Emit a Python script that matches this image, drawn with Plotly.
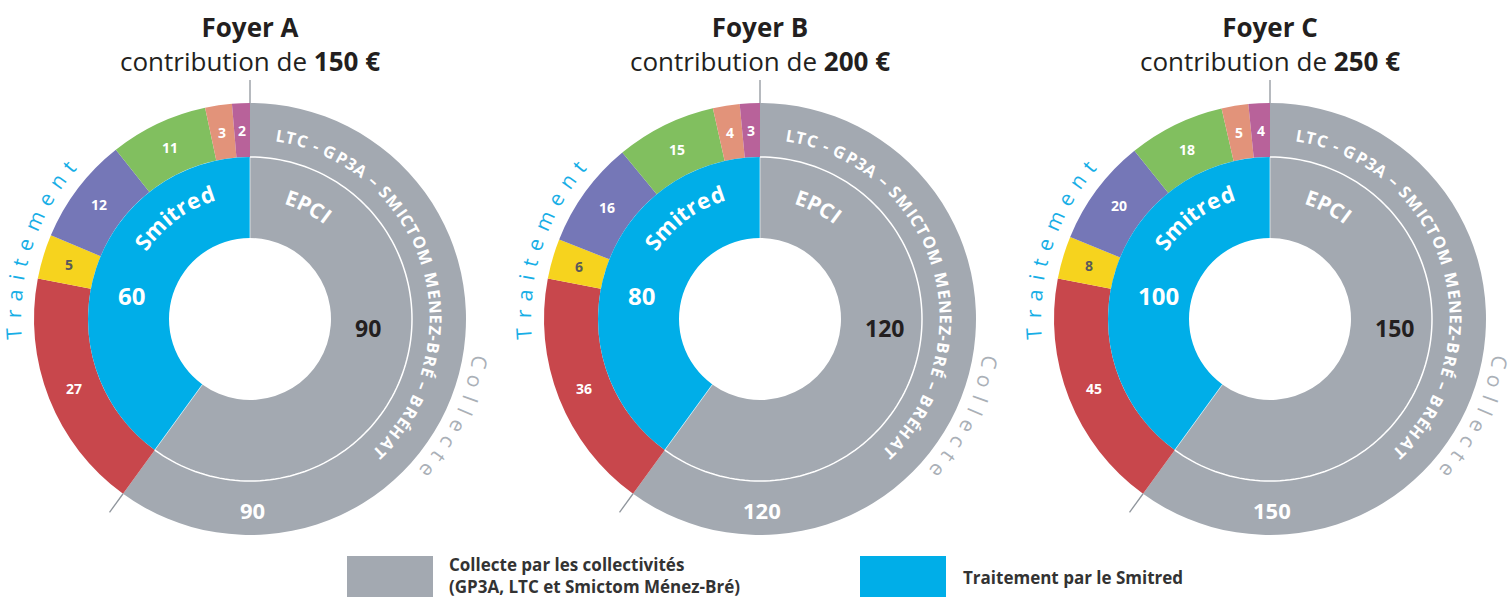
import math
import plotly.graph_objects as go

W, H = 1508, 597

# ---------------- data ----------------
foyers = ["Foyer A", "Foyer B", "Foyer C"]
contributions = [150, 200, 250]
collecte = [90, 120, 150]          # EPCI / collectivités
traitement = [60, 80, 100]         # Smitred
trait_cats = ["Traitement 1", "Traitement 2", "Traitement 3",
              "Traitement 4", "Traitement 5", "Traitement 6"]
trait_A = [27, 5, 12, 11, 3, 2]
trait_B = [36, 6, 16, 15, 4, 3]
trait_C = [45, 8, 20, 18, 5, 4]
trait_values = [trait_A, trait_B, trait_C]

ring_text = "LTC - GP3A – SMICTOM MENEZ-BRÉ – BRÉHAT"
legend_gray_lines = ["Collecte par les collectivités", "(GP3A, LTC et Smictom Ménez-Bré)"]
legend_blue_lines = ["Traitement par le Smitred"]

# ---------------- style ----------------
GRAY = "#a3a9b1"
BLUE = "#00aee8"
TRAIT_COLORS = ["#c8474c", "#f6d31e", "#7577b7", "#81bf5f", "#e2937a", "#b8629a"]
TRAIT_TEXT = ["white", "#5a5a5a", "white", "white", "white", "white"]
DARK = "#231f20"
FONT = "Open Sans"

CENTERS_X = [250, 760, 1270]
CY = 319
R_OUT, R_MID, R_HOLE = 216, 162, 81


def paper(x, y):
    return x / W, 1 - y / H


def pol(cx, cy, r, th):
    a = math.radians(th)
    return cx + r * math.sin(a), cy - r * math.cos(a)


def norm_angle(a):
    while a > 180:
        a -= 360
    while a <= -180:
        a += 360
    return a


BOLD_W = {" ": 0.26, "-": 0.32, "–": 0.5, "A": 0.72, "B": 0.69, "C": 0.645, "E": 0.55,
          "É": 0.55, "G": 0.735, "H": 0.76, "I": 0.36, "L": 0.557, "M": 0.95, "N": 0.80,
          "O": 0.79, "P": 0.63, "R": 0.67, "S": 0.56, "T": 0.57, "Z": 0.56, "3": 0.57,
          "m": 0.95, "i": 0.30, "t": 0.42, "r": 0.45, "e": 0.6, "d": 0.67}
REG_W = {"C": 0.63, "o": 0.6, "l": 0.26, "e": 0.56, "c": 0.48, "t": 0.36, "T": 0.55,
         "r": 0.41, "a": 0.56, "i": 0.26, "m": 0.93, "n": 0.61}

fig = go.Figure()
annotations = []
shapes = []


def arc_text(text, widths, cx, cy, r, th0, th1, size, color, bold=False, track=0.0):
    ws = [widths.get(ch, 0.6) + track for ch in text]
    centers, acc = [], 0.0
    for w in ws:
        centers.append(acc + w / 2)
        acc += w
    c0, c1 = centers[0], centers[-1]
    for ch, c in zip(text, centers):
        if ch == " ":
            continue
        th = th0 + (th1 - th0) * (c - c0) / (c1 - c0)
        x, y = paper(*pol(cx, cy, r, th))
        annotations.append(dict(
            x=x, y=y, xref="paper", yref="paper", showarrow=False,
            text=f"<b>{ch}</b>" if bold else ch, textangle=norm_angle(th),
            xanchor="center", yanchor="middle",
            font=dict(family=FONT, size=size, color=color)))


def label(px, py, text, size, color, angle=0, xanchor="center"):
    x, y = paper(px, py)
    annotations.append(dict(x=x, y=y, xref="paper", yref="paper", showarrow=False,
                            text=text, textangle=angle, xanchor=xanchor, yanchor="middle",
                            align="center" if xanchor == "center" else "left",
                            font=dict(family=FONT, size=size, color=color)))


def domain(cx, cy, r):
    return dict(x=[(cx - r) / W, (cx + r) / W], y=[1 - (cy + r) / H, 1 - (cy - r) / H])


def polyline(cx, cy, r, th0, th1, n=120):
    pts = []
    for i in range(n + 1):
        th = th0 + (th1 - th0) * i / n
        x, y = paper(*pol(cx, cy, r, th))
        pts.append(f"{'M' if i == 0 else 'L'}{x:.6f},{y:.6f}")
    return " ".join(pts)


for i, foyer in enumerate(foyers):
    cx = CENTERS_X[i]
    col, tr, tv = collecte[i], traitement[i], trait_values[i]
    total = col + tr

    # outer ring
    fig.add_trace(go.Pie(
        values=[col] + tv, labels=["Collecte"] + trait_cats,
        marker=dict(colors=[GRAY] + TRAIT_COLORS, line=dict(width=0)),
        hole=R_MID / R_OUT, sort=False, direction="clockwise", rotation=0,
        textinfo="none", hoverinfo="skip", showlegend=False,
        domain=domain(cx, CY, R_OUT)))
    # inner ring
    fig.add_trace(go.Pie(
        values=[col, tr], labels=["EPCI", "Smitred"],
        marker=dict(colors=[GRAY, BLUE], line=dict(width=0)),
        hole=R_HOLE / R_MID, sort=False, direction="clockwise", rotation=0,
        textinfo="none", hoverinfo="skip", showlegend=False,
        domain=domain(cx, CY, R_MID)))

    th_split = 360 * col / total

    # separators
    shapes.append(dict(type="path", xref="paper", yref="paper",
                       path=polyline(cx, CY, R_MID, 0, th_split),
                       line=dict(color="white", width=1.5)))
    for th in (0, th_split):
        x0, y0 = paper(*pol(cx, CY, R_HOLE, th))
        x1, y1 = paper(*pol(cx, CY, R_MID, th))
        shapes.append(dict(type="line", xref="paper", yref="paper", x0=x0, y0=y0, x1=x1, y1=y1,
                           line=dict(color="rgba(255,255,255,0.6)", width=1)))
        x0, y0 = paper(*pol(cx, CY, R_OUT, th))
        x1, y1 = paper(*pol(cx, CY, R_OUT + 23, th))
        shapes.append(dict(type="line", xref="paper", yref="paper", x0=x0, y0=y0, x1=x1, y1=y1,
                           line=dict(color="#8f959c", width=1.3)))

    # titles (one two-line block)
    label(cx, 44, f"<b>{foyer}</b><br>contribution de <b>{contributions[i]} €</b>", 26, DARK)

    # outer traitement labels
    acc = col
    for v, tc in zip(tv, TRAIT_TEXT):
        mid = 360 * (acc + v / 2) / total
        acc += v
        px, py = pol(cx, CY, 189, mid)
        label(px, py, f"<b>{v}</b>", 14, tc)

    # outer gray value
    px, py = pol(cx, CY, 191, 180)
    label(px + 2, py, f"<b>{col}</b>", 22, "white")
    # inner values
    label(cx - 134, CY - 24, f"<b>{tr}</b>", 24, "white", xanchor="left")
    label(cx + 103, CY + 9, f"<b>{col}</b>", 23, DARK, xanchor="left")
    # inner names (curved)
    arc_text("Smitred", BOLD_W, cx, CY, 132, 305.5, 341, 22, "white", bold=True, track=0.02)
    arc_text("EPCI", BOLD_W, cx, CY, 128, 19, 36.5, 21, "white", bold=True)

    # curved texts
    arc_text(ring_text, BOLD_W, cx, CY, 186, 9.5, 136, 16.5, "white", bold=True)
    arc_text("Collecte", REG_W, cx, CY, 234, 100.5, 130.5, 21, "#aab0b7", track=0.45)
    arc_text("Traitement", REG_W, cx, CY, 237, 266.6, 310.2, 21, "#17aee6", track=0.4)

# legend
for (x0, x1), colr, lines, tx, ys in [((347, 433), GRAY, legend_gray_lines, 447, [564.5, 586]),
                                      ((860, 946), BLUE, legend_blue_lines, 961, [577])]:
    a0, b0 = paper(x0, 556)
    a1, b1 = paper(x1, 600)
    shapes.append(dict(type="rect", xref="paper", yref="paper", x0=a0, y0=b1, x1=a1, y1=b0,
                       fillcolor=colr, line=dict(width=0)))
    for txt, ty in zip(lines, ys):
        x, y = paper(tx, ty)
        annotations.append(dict(x=x, y=y, xref="paper", yref="paper", showarrow=False,
                                text=f"<b>{txt}</b>", xanchor="left", yanchor="middle",
                                align="left",
                                font=dict(family=FONT, size=17, color="#333333")))

fig.update_layout(
    width=W, height=H,
    margin=dict(l=0, r=0, t=0, b=0),
    paper_bgcolor="white", plot_bgcolor="white",
    shapes=shapes, annotations=annotations,
    font=dict(family=FONT),
)

fig.write_html("out.html")
